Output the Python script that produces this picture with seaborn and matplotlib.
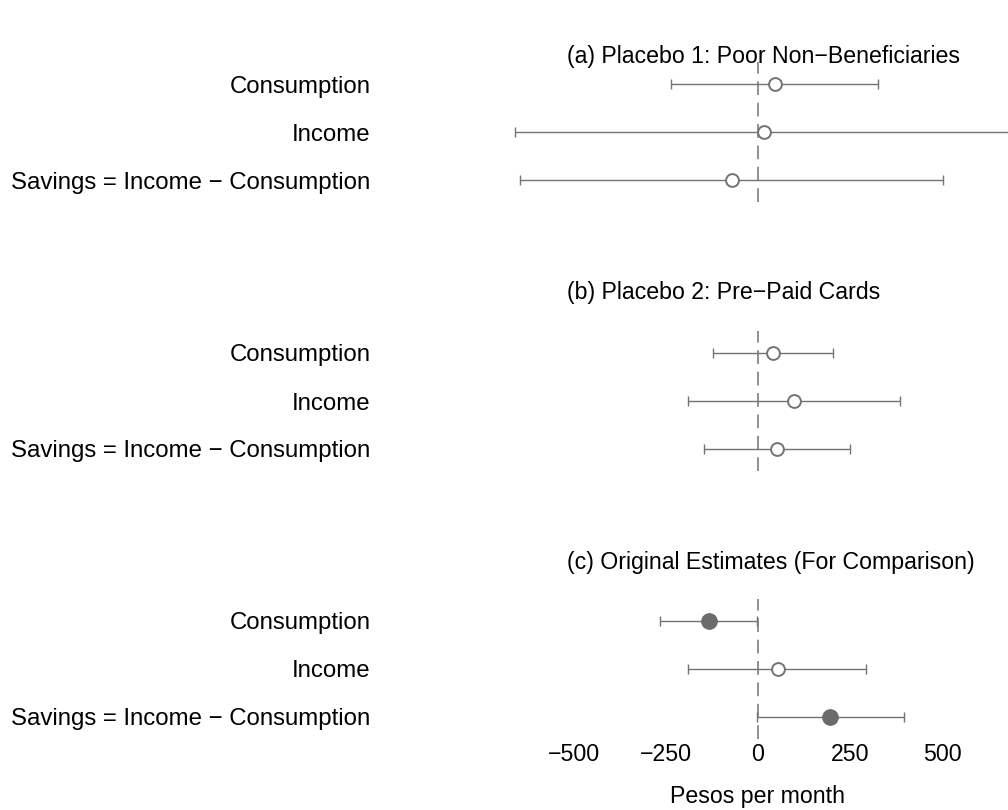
import matplotlib

matplotlib.use("Agg")
import matplotlib.pyplot as plt
import matplotlib.transforms as mtransforms
import pandas as pd
import seaborn as sns

# Data (pesos per month)
panel_titles = [
    "(a) Placebo 1: Poor Non\u2212Beneficiaries",
    "(b) Placebo 2: Pre\u2212Paid Cards",
    "(c) Original Estimates (For Comparison)",
]
outcomes = ["Consumption", "Income", "Savings = Income \u2212 Consumption"]

est_a = [46, 16, -71]
lo_a = [-236, -660, -647]
hi_a = [326, 692, 503]
sig_a = [False, False, False]

est_b = [41, 98, 52]
lo_b = [-122, -190, -147]
hi_b = [204, 386, 250]
sig_b = [False, False, False]

est_c = [-133, 54, 196]
lo_c = [-266, -190, -4]
hi_c = [-3, 293, 397]
sig_c = [True, False, True]

xticks = [-500, -250, 0, 250, 500]

sns.set_style("white")
plt.rcParams["font.family"] = ["Liberation Sans", "DejaVu Sans"]
plt.rcParams["axes.unicode_minus"] = True
plt.rcParams["text.color"] = "black"
plt.rcParams["xtick.color"] = "black"
plt.rcParams["ytick.color"] = "black"

GRAY = "#737373"
FS = 16.7      # titles, x ticks, x label
FS_Y = 17.3    # outcome labels

W, H = 1008, 810
fig = plt.figure(figsize=(W / 100, H / 100), dpi=100)

# pixel layout (top-down)
left_px, right_px = 480, 1008
zero_px, px_per_unit = 758, 0.368
xlim = ((left_px - zero_px) / px_per_unit, (right_px - zero_px) / px_per_unit)
row_gap = 48
first_rows = [84, 353, 621]
title_y = [56, 293, 563]

panels = [
    (est_a, lo_a, hi_a, sig_a),
    (est_b, lo_b, hi_b, sig_b),
    (est_c, lo_c, hi_c, sig_c),
]

axes = []
for i, (est, lo, hi, sig) in enumerate(panels):
    top = first_rows[i] - 0.45 * row_gap
    height = 2.9 * row_gap
    ax = fig.add_axes([left_px / W, 1 - (top + height) / H,
                       (right_px - left_px) / W, height / H])
    axes.append(ax)
    df = pd.DataFrame({"outcome": outcomes, "est": est, "lo": lo, "hi": hi,
                       "sig": sig, "row": range(len(outcomes))})

    ax.axvline(0, color=GRAY, lw=1.1, dashes=(9, 5), zorder=1)
    ax.errorbar(df["est"], df["row"],
                xerr=[df["est"] - df["lo"], df["hi"] - df["est"]],
                fmt="none", ecolor=GRAY, elinewidth=1.0, capsize=3.6,
                capthick=1.0, zorder=2)
    open_pts = df[~df["sig"]]
    sns.scatterplot(data=open_pts, x="est", y="row", ax=ax, s=85,
                    marker="o", facecolor="white", edgecolor=GRAY,
                    linewidth=1.4, zorder=3, legend=False)
    filled = df[df["sig"]]
    if len(filled):
        sns.scatterplot(data=filled, x="est", y="row", ax=ax, s=125,
                        marker="o", color="#6b6b6b", edgecolor="#6b6b6b",
                        linewidth=0.8, zorder=3, legend=False)

    ax.set_xlim(*xlim)
    ax.set_ylim(2.45, -0.45)
    ax.set_yticks(range(len(outcomes)))
    ax.set_yticklabels(outcomes, fontsize=FS_Y)
    ax.tick_params(axis="y", length=0, pad=79)
    ax.set_xlabel("")
    ax.set_ylabel("")
    sns.despine(ax=ax, left=True, bottom=True)
    if i < 2:
        ax.set_xticks([])
    else:
        ax.set_xticks(xticks)
        ax.set_xticklabels([f"{t}".replace("-", "\u2212") for t in xticks],
                           fontsize=FS)
        ax.tick_params(axis="x", length=0, pad=3)

    fig.text(567 / W, 1 - title_y[i] / H, panel_titles[i], fontsize=FS,
             ha="left", va="center")

trans = mtransforms.blended_transform_factory(axes[2].transData, fig.transFigure)
axes[2].text(0, 1 - 796 / H, "Pesos per month", transform=trans, fontsize=FS,
             ha="center", va="center")

fig.savefig("out.png", dpi=100)
